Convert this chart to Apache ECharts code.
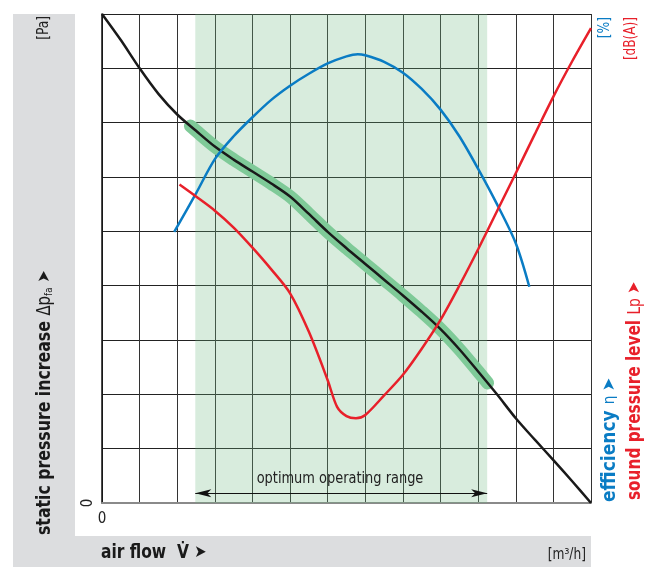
<!DOCTYPE html>
<html>
<head>
<meta charset="utf-8">
<script src="https://cdn.jsdelivr.net/npm/echarts@6/dist/echarts.min.js"></script>
<style>
  html, body { margin: 0; padding: 0; background: #fff; }
  #chart { width: 657px; height: 567px; }
</style>
</head>
<body>
<div id="chart"></div>
<script>
// grid units: x 0..13 (air flow), y 0..9 (pressure / efficiency / sound)
const xTicks = [0, 1, 2, 3, 4, 5, 6, 7, 8, 9, 10, 11, 12, 13]
const yTicks = [0, 1, 2, 3, 4, 5, 6, 7, 8, 9]

// static pressure curve (black)
const pressureCurve = [[0, 9], [0.5, 8.52], [1, 8], [1.5, 7.53], [2, 7.15], [2.5, 6.85], [3, 6.56], [3.5, 6.32], [4, 6.1], [4.5, 5.88], [5, 5.64], [5.5, 5.32], [6, 4.99], [6.5, 4.69], [7, 4.4], [7.5, 4.11], [8, 3.82], [8.5, 3.52], [9, 3.2], [9.5, 2.83], [10, 2.42], [10.5, 2.0], [11, 1.56], [11.5, 1.17], [12, 0.79], [12.5, 0.4], [13, 0]]
// thick green part of the curve (optimum)
const optimumBand = [[2.35, 6.94], [2.5, 6.85], [3, 6.56], [3.5, 6.32], [4, 6.1], [4.5, 5.88], [5, 5.64], [5.5, 5.32], [6, 4.99], [6.5, 4.69], [7, 4.4], [7.5, 4.11], [8, 3.82], [8.5, 3.52], [9, 3.2], [9.5, 2.83], [10, 2.42], [10.25, 2.21]]
// efficiency (blue)
const efficiency = [[1.92, 4.99], [2.5, 5.7], [3, 6.33], [3.5, 6.75], [4, 7.1], [4.5, 7.42], [5, 7.68], [5.5, 7.9], [6, 8.09], [6.5, 8.22], [6.8, 8.26], [7, 8.24], [7.5, 8.12], [8, 7.92], [8.5, 7.62], [9, 7.24], [9.5, 6.75], [10, 6.15], [10.5, 5.5], [11, 4.78], [11.36, 3.98]]
// sound pressure level (red)
const soundLevel = [[2.06, 5.86], [2.5, 5.64], [3, 5.38], [3.5, 5.07], [4, 4.7], [4.5, 4.3], [5, 3.86], [5.5, 3.15], [6, 2.26], [6.25, 1.77], [6.5, 1.6], [6.75, 1.56], [7, 1.62], [7.5, 1.98], [8, 2.36], [8.5, 2.84], [9, 3.37], [9.5, 4.0], [10, 4.67], [10.5, 5.37], [11, 6.07], [11.5, 6.78], [12, 7.48], [12.5, 8.13], [13, 8.74]]

// optimum operating range
const rangeStart = 2.48
const rangeEnd = 10.24
const rangeArrowY = 0.18

const narrow = "'Liberation Sans Narrow', 'DejaVu Sans Condensed', 'Roboto', sans-serif"
const blue = '#0a7cc4'
const red = '#e8202a'

var myChart = echarts.init(document.getElementById('chart'))

// rotated / condensed label helper
const label = (x, y, rot, sx, align, style) => ({
  type: 'text', x: x, y: y, rotation: rot, scaleX: sx, z: 10,
  style: Object.assign({ align: align, verticalAlign: 'middle', textAlign: align, textVerticalAlign: 'middle' }, style)
})

let option = {
  animation: false,
  backgroundColor: '#fff',
  grid: { left: 102, top: 14, width: 489, height: 489 },
  xAxis: {
    type: 'value',
    min: xTicks[0],
    max: xTicks[xTicks.length - 1],
    interval: 1,
    axisLine: { lineStyle: { color: '#8a8a8a', width: 2 } },
    axisTick: { show: false },
    axisLabel: {
      formatter: v => (v === 0 ? '0' : ''),
      color: '#222',
      fontFamily: narrow,
      fontSize: 15,
      margin: 9
    },
    splitLine: { show: true, lineStyle: { color: '#333', width: 1 } }
  },
  yAxis: {
    type: 'value',
    min: yTicks[0],
    max: yTicks[yTicks.length - 1],
    interval: 1,
    axisLine: { show: true, lineStyle: { color: '#111', width: 1.5 } },
    axisTick: { show: false },
    axisLabel: {
      formatter: v => (v === 0 ? '0' : ''),
      color: '#222',
      fontFamily: narrow,
      fontSize: 15,
      rotate: 90,
      margin: 6
    },
    splitLine: { show: true, lineStyle: { color: '#222', width: 1 } }
  },
  series: [
    {
      name: 'optimum',
      type: 'line',
      data: optimumBand,
      smooth: 0.3,
      symbol: 'none',
      z: 2,
      lineStyle: { color: '#7fca98', width: 13, cap: 'round', join: 'round' },
      markArea: {
        silent: true,
        itemStyle: { color: 'rgba(110,185,130,0.27)' },
        data: [[{ xAxis: rangeStart, yAxis: yTicks[0] }, { xAxis: rangeEnd, yAxis: yTicks[yTicks.length - 1] }]]
      },
      markLine: {
        silent: true,
        symbol: ['arrow', 'arrow'],
        symbolSize: [6, 16],
        label: { show: false },
        lineStyle: { color: '#111', width: 1, type: 'solid' },
        data: [[{ coord: [rangeStart, rangeArrowY] }, { coord: [rangeEnd, rangeArrowY] }]]
      }
    },
    {
      name: 'pressure',
      type: 'line',
      data: pressureCurve,
      smooth: 0.3,
      symbol: 'none',
      z: 3,
      lineStyle: { color: '#1a1a1a', width: 2.5 }
    },
    {
      name: 'efficiency',
      type: 'line',
      data: efficiency,
      smooth: 0.3,
      symbol: 'none',
      z: 4,
      lineStyle: { color: blue, width: 2.5 }
    },
    {
      name: 'sound',
      type: 'line',
      data: soundLevel,
      smooth: 0.3,
      symbol: 'none',
      z: 5,
      lineStyle: { color: red, width: 2.5 }
    }
  ],
  graphic: [
    { type: 'rect', z: -10, shape: { x: 13, y: 14, width: 62, height: 553 }, style: { fill: '#dcdddf' } },
    { type: 'rect', z: -10, shape: { x: 13, y: 536, width: 578, height: 31 }, style: { fill: '#dcdddf' } },
    label(44, 16, Math.PI / 2, 0.85, 'right', { text: '[Pa]', font: '16px ' + narrow, fill: '#222' }),
    label(45, 535, Math.PI / 2, 0.875, 'left', {
      text: '{b|static pressure increase }{n|Δp}{s|fa}{a| ➤}',
      rich: {
        b: { fontSize: 20, fontWeight: 'bold', fontFamily: narrow, fill: '#1a1a1a' },
        n: { fontSize: 19, fontFamily: narrow, fill: '#1a1a1a' },
        s: { fontSize: 11, fontFamily: narrow, fill: '#1a1a1a', padding: [8, 0, 0, 0] },
        a: { fontSize: 17, fontFamily: 'DejaVu Sans', fill: '#1a1a1a' }
      }
    }),
    label(101, 553, 0, 0.86, 'left', {
      text: '{b|air flow  V̇ }{a|➤}',
      rich: {
        b: { fontSize: 20, fontWeight: 'bold', fontFamily: narrow, fill: '#1a1a1a' },
        a: { fontSize: 17, fontFamily: 'DejaVu Sans', fill: '#1a1a1a' }
      }
    }),
    label(586, 555, 0, 0.85, 'right', { text: '[m³/h]', font: '16px ' + narrow, fill: '#222' }),
    label(605, 17, Math.PI / 2, 0.85, 'right', { text: '[%]', font: '16px ' + narrow, fill: blue }),
    label(631, 17, Math.PI / 2, 0.84, 'right', { text: '[dB(A)]', font: '16px ' + narrow, fill: red }),
    label(610, 502, Math.PI / 2, 0.95, 'left', {
      text: '{b|efficiency }{n|η }{a|➤}',
      rich: {
        b: { fontSize: 20, fontWeight: 'bold', fontFamily: narrow, fill: blue },
        n: { fontSize: 16, fontFamily: narrow, fill: blue },
        a: { fontSize: 17, fontFamily: 'DejaVu Sans', fill: blue }
      }
    }),
    label(635, 500, Math.PI / 2, 0.85, 'left', {
      text: '{b|sound pressure level }{n|Lp }{a|➤}',
      rich: {
        b: { fontSize: 20, fontWeight: 'bold', fontFamily: narrow, fill: red },
        n: { fontSize: 18, fontFamily: narrow, fill: red },
        a: { fontSize: 17, fontFamily: 'DejaVu Sans', fill: red }
      }
    }),
    label(340, 479, 0, 0.9, 'center', { text: 'optimum operating range', font: '16px ' + narrow, fill: '#222' })
  ]
}

myChart.setOption(option)
</script>
</body>
</html>
